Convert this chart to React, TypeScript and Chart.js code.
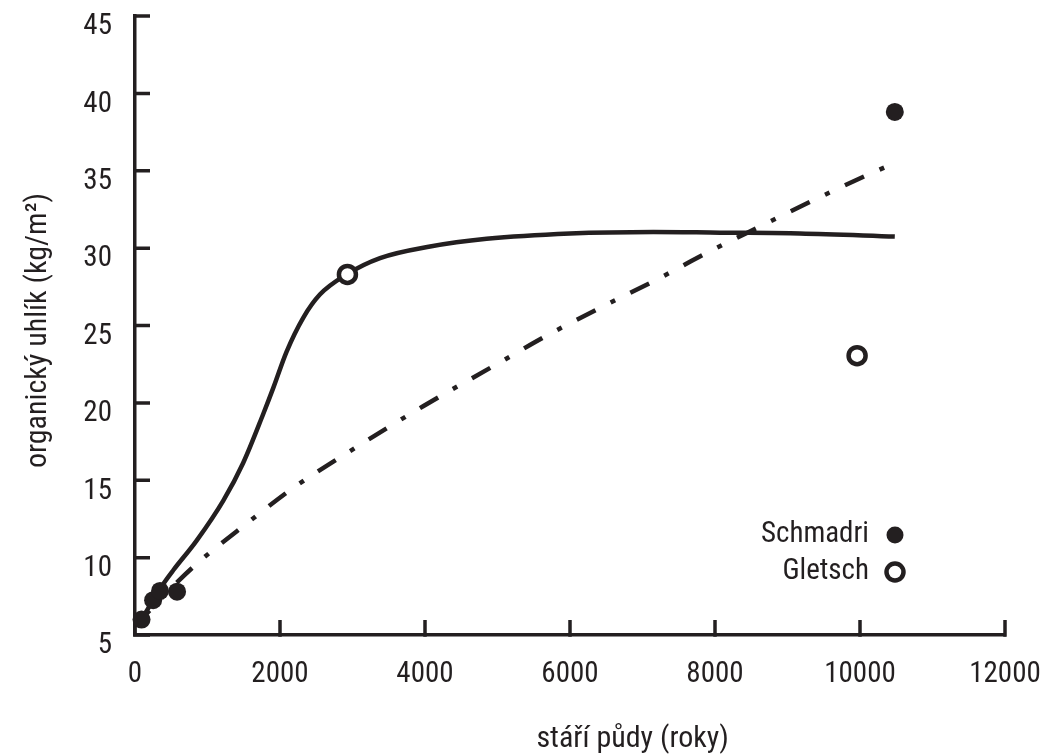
import React, { useEffect, useRef } from 'react';
import { Chart, registerables } from 'chart.js';

Chart.register(...registerables);

const INK = '#231f20';
const FAMILY = "Roboto, 'Liberation Sans', Arial, sans-serif";
const STRETCH = 'condensed';

// Axis ticks
const xTickValues = [0, 2000, 4000, 6000, 8000, 10000, 12000];
const yTickValues = [5, 10, 15, 20, 25, 30, 35, 40, 45];

// Titles / legend
const xTitle = 'stáří půdy (roky)';
const yTitle = 'organický uhlík (kg/m²)';
const legendLabels = ['Schmadri', 'Gletsch'];

// Measured points
const schmadriAge = [90, 250, 345, 580, 10480];
const schmadriCarbon = [6.0, 7.25, 7.85, 7.8, 38.8];
const gletschAge = [2930, 9960];
const gletschCarbon = [28.3, 23.05];

// Solid fitted curve (sigmoid)
const fitAge = [90, 390, 530, 850, 1220, 1490, 1770, 1910, 2090, 2320, 2550, 2920, 3380, 4070, 4850, 6000, 7150, 8070, 9170, 10480];
const fitCarbon = [6.0, 8.3, 9.2, 11.1, 13.7, 16.1, 19.3, 21.0, 23.3, 25.5, 27.0, 28.3, 29.35, 30.1, 30.6, 30.95, 31.05, 31.0, 30.95, 30.75];

// Dash-dot trend curve
const trendAge = [0, 600, 900, 1540, 2180, 2870, 3980, 4990, 5700, 6440, 7170, 7890, 8620, 9360, 10090, 10480];
const trendCarbon = [5.6, 8.5, 9.8, 12.2, 14.5, 16.6, 19.8, 22.5, 24.4, 26.2, 27.9, 29.7, 31.4, 33.1, 34.7, 35.5];

const toXY = (xs: number[], ys: number[]) => xs.map((x, i) => ({ x, y: ys[i] }));

const inwardTicks = {
  id: 'inwardTicks',
  beforeDatasetsDraw(chart: any) {
    const { ctx, chartArea, scales } = chart;
    const len = 15;
    ctx.save();
    ctx.strokeStyle = INK;
    ctx.lineWidth = 3.5;
    ctx.lineCap = 'butt';
    ctx.beginPath();
    scales.x.ticks.forEach((t: any) => {
      const px = scales.x.getPixelForValue(t.value);
      ctx.moveTo(px, chartArea.bottom + 1.75);
      ctx.lineTo(px, chartArea.bottom - len);
    });
    scales.y.ticks.forEach((t: any) => {
      const py = scales.y.getPixelForValue(t.value);
      ctx.moveTo(chartArea.left - 1.75, py);
      ctx.lineTo(chartArea.left + len, py);
    });
    ctx.stroke();
    ctx.restore();
  },
};

const titlesAndLegend = {
  id: 'titlesAndLegend',
  afterDraw(chart: any) {
    const { ctx, chartArea } = chart;
    const w = chartArea.right - chartArea.left;
    const h = chartArea.bottom - chartArea.top;
    ctx.save();
    ctx.fillStyle = INK;
    ctx.font = `${STRETCH} 30px ${FAMILY}`;
    ctx.textAlign = 'center';
    ctx.textBaseline = 'middle';
    ctx.fillText(xTitle, chartArea.left + w * 0.572, chartArea.bottom + 104);
    ctx.save();
    ctx.translate(chartArea.left - 97, chartArea.top + h / 2 + 5);
    ctx.rotate(-Math.PI / 2);
    ctx.fillText(yTitle, 0, 0);
    ctx.restore();

    // legend
    ctx.font = `${STRETCH} 29px ${FAMILY}`;
    const textRight = chartArea.right - 136;
    const markX = chartArea.right - 110;
    const rows = [chartArea.bottom - 100, chartArea.bottom - 63];
    ctx.textAlign = 'right';
    legendLabels.forEach((lab, i) => {
      const y = rows[i];
      ctx.fillStyle = INK;
      ctx.fillText(lab, textRight, y);
      ctx.beginPath();
      ctx.arc(markX, y, 8.5, 0, Math.PI * 2);
      if (i === 0) {
        ctx.fillStyle = INK;
        ctx.fill();
      } else {
        ctx.fillStyle = '#ffffff';
        ctx.fill();
        ctx.lineWidth = 4.5;
        ctx.strokeStyle = INK;
        ctx.stroke();
      }
    });
    ctx.restore();
  },
};

const zeroPadding = (s: any) => {
  s.paddingTop = 0;
  s.paddingBottom = 0;
  s.paddingLeft = 0;
  s.paddingRight = 0;
};

export default function App() {
  const ref = useRef<HTMLCanvasElement | null>(null);

  useEffect(() => {
    if (!ref.current) return;
    const tickFont = { family: FAMILY, size: 29, lineHeight: 1, weight: STRETCH } as any;
    const chart = new Chart(ref.current, {
      type: 'scatter',
      data: {
        datasets: [
          {
            label: 'Schmadri',
            data: toXY(schmadriAge, schmadriCarbon),
            pointRadius: 9,
            pointBackgroundColor: INK,
            pointBorderWidth: 0,
            showLine: false,
            clip: false,
            order: 0,
          } as any,
          {
            label: 'Gletsch',
            data: toXY(gletschAge, gletschCarbon),
            pointRadius: 8.5,
            pointBackgroundColor: '#ffffff',
            pointBorderColor: INK,
            pointBorderWidth: 4.5,
            showLine: false,
            clip: false,
            order: 1,
          } as any,
          {
            label: 'fit',
            data: toXY(fitAge, fitCarbon),
            showLine: true,
            pointRadius: 0,
            borderColor: INK,
            borderWidth: 4.5,
            cubicInterpolationMode: 'monotone',
            fill: false,
            clip: false,
            order: 2,
          } as any,
          {
            label: 'trend',
            data: toXY(trendAge, trendCarbon),
            showLine: true,
            pointRadius: 0,
            borderColor: INK,
            borderWidth: 4.5,
            borderDash: [21, 17, 5, 17],
            borderCapStyle: 'butt',
            cubicInterpolationMode: 'monotone',
            fill: false,
            clip: false,
            order: 3,
          } as any,
        ],
      },
      options: {
        animation: false,
        responsive: true,
        maintainAspectRatio: false,
        layout: { padding: { top: 16, right: 41, bottom: 0, left: 0 } },
        plugins: {
          legend: { display: false },
          tooltip: { enabled: false },
        },
        scales: {
          x: {
            type: 'linear',
            min: 0,
            max: 12000,
            afterBuildTicks: (s: any) => {
              s.ticks = xTickValues.map((v) => ({ value: v }));
            },
            afterFit: (s: any) => {
              s.height = 120;
              zeroPadding(s);
            },
            grid: { display: false, drawTicks: false },
            border: { display: true, color: INK, width: 3.5 },
            ticks: {
              color: INK,
              font: tickFont,
              padding: 25,
              maxRotation: 0,
              autoSkip: false,
              callback: (v: any) => String(v),
            },
          },
          y: {
            type: 'linear',
            min: 5,
            max: 45,
            afterBuildTicks: (s: any) => {
              s.ticks = yTickValues.map((v) => ({ value: v }));
            },
            afterFit: (s: any) => {
              s.width = 135;
              zeroPadding(s);
            },
            grid: { display: false, drawTicks: false },
            border: { display: true, color: INK, width: 3.5 },
            ticks: {
              color: INK,
              font: tickFont,
              padding: 23,
              labelOffset: 11,
              autoSkip: false,
              callback: (v: any) => String(v),
            },
          },
        },
      },
      plugins: [inwardTicks, titlesAndLegend],
    });
    return () => chart.destroy();
  }, []);

  return (
    <div style={{ position: 'absolute', left: 0, top: 0, width: 1046, height: 755, background: '#ffffff' }}>
      <canvas ref={ref} />
    </div>
  );
}
